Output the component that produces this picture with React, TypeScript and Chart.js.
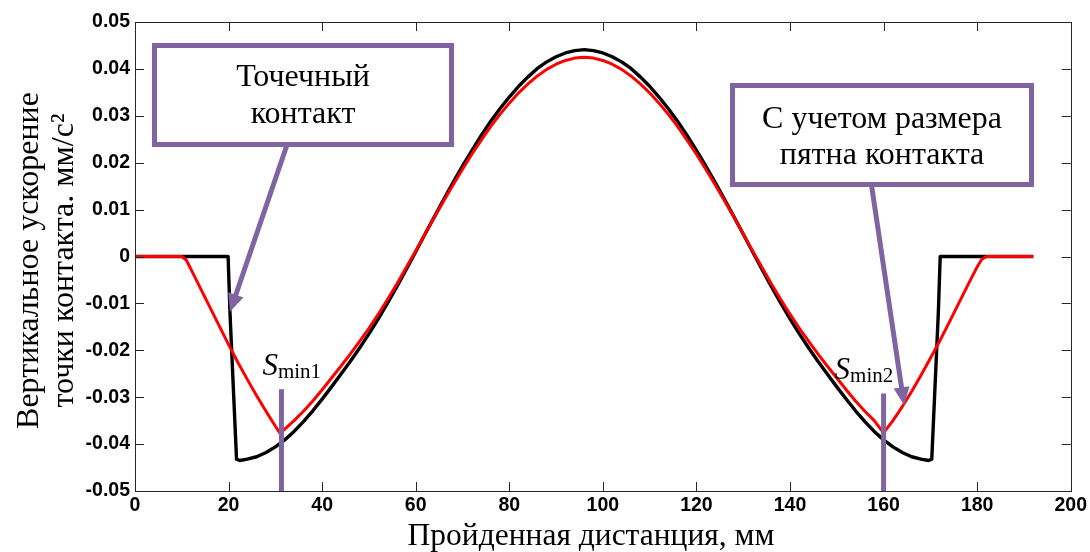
import React, { useEffect, useRef } from "react";
import { Chart, registerables } from "chart.js";

Chart.register(...registerables);

// ---- data ----
const xTickValues = [0, 20, 40, 60, 80, 100, 120, 140, 160, 180, 200];
const xTickLabels = ["0", "20", "40", "60", "80", "100", "120", "140", "160", "180", "200"];
const yTickValues = [-0.05, -0.04, -0.03, -0.02, -0.01, 0, 0.01, 0.02, 0.03, 0.04, 0.05];
const yTickLabels = ["-0.05", "-0.04", "-0.03", "-0.02", "-0.01", "0", "0.01", "0.02", "0.03", "0.04", "0.05"];

// point contact (black)
const blackX = [
  0, 19.9, 20.3, 21.7, 22.4, 24, 26, 28, 30, 32, 34, 36, 38, 40, 42, 44, 46, 48, 50, 52, 54, 56, 58, 60,
  62, 64, 66, 68, 70, 72, 74, 76, 78, 80, 82, 84, 86, 88, 90, 92, 94, 96, 98, 100, 102, 104, 106, 108,
  110, 112, 114, 116, 118, 120, 122, 124, 126, 128, 130, 132, 134, 136, 138, 140, 142, 144, 146, 148,
  150, 152, 154, 156, 158, 160, 162, 164, 166, 168, 169.6, 170.3, 171.7, 172.1, 192,
];
const blackY = [
  0, 0, -0.012, -0.0432, -0.0435, -0.0432, -0.0427, -0.0418, -0.0406, -0.0391, -0.0373, -0.0352, -0.0329,
  -0.0304, -0.0278, -0.0251, -0.0224, -0.0195, -0.0165, -0.0133, -0.0099, -0.0064, -0.0027, 0.001,
  0.0048, 0.0085, 0.0122, 0.0158, 0.0193, 0.0226, 0.0258, 0.0288, 0.0315, 0.034, 0.0363, 0.0383, 0.0401,
  0.0415, 0.0426, 0.0434, 0.0439, 0.0441, 0.0439, 0.0434, 0.0426, 0.0415, 0.0401, 0.0383, 0.0363, 0.034,
  0.0315, 0.0288, 0.0258, 0.0226, 0.0193, 0.0158, 0.0122, 0.0085, 0.0048, 0.001, -0.0027, -0.0064,
  -0.0099, -0.0133, -0.0165, -0.0195, -0.0224, -0.0251, -0.0278, -0.0304, -0.0329, -0.0352, -0.0373,
  -0.0391, -0.0406, -0.0418, -0.0427, -0.0432, -0.0435, -0.0432, -0.012, 0, 0,
];

// contact patch size taken into account (red)
const redX = [
  0, 10, 11, 12, 14, 16, 18, 20, 22, 24, 26, 28, 30, 31, 32, 34, 36, 38, 40, 42, 44, 46, 48, 50, 52, 54,
  56, 58, 60, 62, 64, 66, 68, 70, 72, 74, 76, 78, 80, 82, 84, 86, 88, 90, 92, 94, 96, 98, 100, 102, 104,
  106, 108, 110, 112, 114, 116, 118, 120, 122, 124, 126, 128, 130, 132, 134, 136, 138, 140, 142, 144,
  146, 148, 150, 152, 154, 156, 158, 160, 162, 164, 166, 168, 170, 172, 174, 176, 178, 180, 181, 182, 192,
];
const redY = [
  0, 0, -0.0008, -0.0028, -0.0068, -0.0108, -0.0148, -0.0188, -0.0226, -0.0262, -0.0297, -0.033, -0.0362,
  -0.0377, -0.0368, -0.035, -0.033, -0.0308, -0.0284, -0.0259, -0.0234, -0.0208, -0.0181, -0.0153,
  -0.0123, -0.0091, -0.0058, -0.0023, 0.0012, 0.0048, 0.0084, 0.0119, 0.0153, 0.0186, 0.0218, 0.0248,
  0.0277, 0.0303, 0.0327, 0.0349, 0.0368, 0.0385, 0.0399, 0.041, 0.0418, 0.0423, 0.0425, 0.0423, 0.0418,
  0.041, 0.0399, 0.0385, 0.0368, 0.0349, 0.0327, 0.0303, 0.0277, 0.0248, 0.0218, 0.0186, 0.0153, 0.0119,
  0.0084, 0.0048, 0.0012, -0.0023, -0.0058, -0.0091, -0.0123, -0.0153, -0.0181, -0.0208, -0.0234,
  -0.0259, -0.0284, -0.0308, -0.033, -0.035, -0.0376, -0.035, -0.032, -0.0288, -0.0253, -0.0217, -0.018,
  -0.0141, -0.0101, -0.0061, -0.0022, -0.0006, 0, 0,
];

// S_min markers
const sminX = [31.3, 160];
const sminTop = [-0.0283, -0.0292];
const sminSub = ["min1", "min2"];

// annotation texts
const xTitle = "Пройденная дистанция, мм";
const yTitleLines = ["Вертикальное ускорение", "точки контакта. мм/с²"];
const box1Lines = ["Точечный", "контакт"];
const box2Lines = ["С учетом размера", "пятна контакта"];
const arrow1Tip = { x: 20.3, y: -0.0118 };
const arrow2Tip = { x: 164.4, y: -0.0317 };

const PURPLE = "#8064A2";
const SERIF = "'Liberation Serif', 'Times New Roman', serif";
const SANS = "'Liberation Sans', Arial, sans-serif";

function drawArrow(ctx: CanvasRenderingContext2D, x1: number, y1: number, x2: number, y2: number) {
  const ang = Math.atan2(y2 - y1, x2 - x1);
  const headLen = 18;
  const headHalf = 8;
  const bx = x2 - Math.cos(ang) * headLen;
  const by = y2 - Math.sin(ang) * headLen;
  ctx.save();
  ctx.strokeStyle = PURPLE;
  ctx.fillStyle = PURPLE;
  ctx.lineWidth = 5;
  ctx.beginPath();
  ctx.moveTo(x1, y1);
  ctx.lineTo(bx + Math.cos(ang) * 2, by + Math.sin(ang) * 2);
  ctx.stroke();
  ctx.beginPath();
  ctx.moveTo(x2, y2);
  ctx.lineTo(bx + Math.cos(ang + Math.PI / 2) * headHalf, by + Math.sin(ang + Math.PI / 2) * headHalf);
  ctx.lineTo(bx + Math.cos(ang - Math.PI / 2) * headHalf, by + Math.sin(ang - Math.PI / 2) * headHalf);
  ctx.closePath();
  ctx.fill();
  ctx.restore();
}

function drawBox(ctx: CanvasRenderingContext2D, x0: number, y0: number, x1: number, y1: number, lines: string[], cx: number, ys: number[]) {
  ctx.save();
  ctx.fillStyle = "#ffffff";
  ctx.fillRect(x0, y0, x1 - x0, y1 - y0);
  ctx.strokeStyle = PURPLE;
  ctx.lineWidth = 5;
  ctx.strokeRect(x0 + 2.5, y0 + 2.5, x1 - x0 - 5, y1 - y0 - 5);
  ctx.fillStyle = "#000000";
  ctx.font = `32px ${SERIF}`;
  ctx.textAlign = "center";
  ctx.textBaseline = "middle";
  lines.forEach((t, i) => ctx.fillText(t, cx, ys[i]));
  ctx.restore();
}

const overlayPlugin = {
  id: "overlay",
  afterDraw(chart: any) {
    const ctx: CanvasRenderingContext2D = chart.ctx;
    const xs = chart.scales.x;
    const ys = chart.scales.y;
    const { left, right, top, bottom } = chart.chartArea;

    ctx.save();
    // inside tick marks
    ctx.strokeStyle = "#262626";
    ctx.lineWidth = 1;
    const tl = 9;
    ctx.beginPath();
    xTickValues.forEach((v) => {
      const px = Math.round(xs.getPixelForValue(v)) + 0.5;
      ctx.moveTo(px, bottom);
      ctx.lineTo(px, bottom - tl);
      ctx.moveTo(px, top);
      ctx.lineTo(px, top + tl);
    });
    yTickValues.forEach((v) => {
      const py = Math.round(ys.getPixelForValue(v)) + 0.5;
      ctx.moveTo(left, py);
      ctx.lineTo(left + tl, py);
      ctx.moveTo(right, py);
      ctx.lineTo(right - tl, py);
    });
    ctx.stroke();
    // box
    ctx.strokeRect(Math.round(left) + 0.5, Math.round(top) + 0.5, Math.round(right - left), Math.round(bottom - top));

    // axis titles
    ctx.fillStyle = "#000";
    ctx.font = `31.5px ${SERIF}`;
    ctx.textAlign = "center";
    ctx.textBaseline = "middle";
    ctx.fillText(xTitle, 591, 537);
    ctx.font = `32px ${SERIF}`;
    const yMid = (top + bottom) / 2 + 4;
    [30, 65].forEach((xx, i) => {
      ctx.save();
      ctx.translate(xx, yMid);
      ctx.rotate(-Math.PI / 2);
      ctx.fillText(yTitleLines[i], 0, 0);
      ctx.restore();
    });

    // S_min markers
    sminX.forEach((v, i) => {
      const px = xs.getPixelForValue(v);
      const pt = ys.getPixelForValue(sminTop[i]);
      ctx.strokeStyle = PURPLE;
      ctx.lineWidth = 5;
      ctx.beginPath();
      ctx.moveTo(px, pt);
      ctx.lineTo(px, bottom);
      ctx.stroke();
      const sx = i === 0 ? px - 19 : px - 49;
      const sb = pt - 14;
      ctx.fillStyle = "#000";
      ctx.textAlign = "left";
      ctx.textBaseline = "alphabetic";
      ctx.font = `italic 31px ${SERIF}`;
      ctx.fillText("S", sx, sb);
      const w = ctx.measureText("S").width;
      ctx.font = `21px ${SERIF}`;
      ctx.fillText(sminSub[i], sx + w, sb + 3);
    });
    ctx.restore();

    // callout boxes and arrows
    drawArrow(ctx, 288, 142, xs.getPixelForValue(arrow1Tip.x), ys.getPixelForValue(arrow1Tip.y));
    drawArrow(ctx, 871.5, 185, xs.getPixelForValue(arrow2Tip.x), ys.getPixelForValue(arrow2Tip.y));
    drawBox(ctx, 152, 43, 454, 147, box1Lines, 303, [78, 115]);
    drawBox(ctx, 730, 83, 1034, 187, box2Lines, 882, [120, 156]);
  },
};

export default function App() {
  const canvasRef = useRef<HTMLCanvasElement | null>(null);

  useEffect(() => {
    const canvas = canvasRef.current;
    if (!canvas) return;
    const redData = redX.map((x, i) => ({ x, y: redY[i] }));
    const blackData = blackX.map((x, i) => ({ x, y: blackY[i] }));
    const chart = new Chart(canvas, {
      type: "line",
      data: {
        datasets: [
          {
            label: "С учетом размера пятна контакта",
            data: redData,
            borderColor: "#ff0000",
            borderWidth: 3,
            pointRadius: 0,
            tension: 0,
            borderJoinStyle: "round",
            order: 0,
          },
          {
            label: "Точечный контакт",
            data: blackData,
            borderColor: "#000000",
            borderWidth: 3.4,
            pointRadius: 0,
            tension: 0,
            borderJoinStyle: "round",
            order: 1,
          },
        ],
      },
      options: {
        animation: false,
        responsive: false,
        devicePixelRatio: 1,
        layout: { padding: { left: 0, top: 22, right: 18, bottom: 0 } },
        plugins: { legend: { display: false }, tooltip: { enabled: false } },
        events: [],
        scales: {
          x: {
            type: "linear",
            min: 0,
            max: 200,
            grid: { display: false, drawTicks: false },
            border: { display: false },
            afterBuildTicks: (s: any) => {
              s.ticks = xTickValues.map((v) => ({ value: v }));
            },
            afterFit: (s: any) => {
              s.height = 61;
            },
            ticks: {
              autoSkip: false,
              maxRotation: 0,
              padding: 3,
              color: "#000",
              font: { family: SANS, size: 19.5, weight: "bold" },
              callback: (_v: any, i: number) => xTickLabels[i],
            },
          },
          y: {
            type: "linear",
            min: -0.05,
            max: 0.05,
            grid: { display: false, drawTicks: false },
            border: { display: false },
            afterBuildTicks: (s: any) => {
              s.ticks = yTickValues.map((v) => ({ value: v }));
            },
            afterFit: (s: any) => {
              s.width = 135;
            },
            ticks: {
              autoSkip: false,
              padding: 5,
              color: "#000",
              font: { family: SANS, size: 19.5, weight: "bold" },
              callback: (_v: any, i: number) => yTickLabels[i],
            },
          },
        },
      },
      plugins: [overlayPlugin],
    });
    return () => chart.destroy();
  }, []);

  return (
    <div style={{ position: "fixed", left: 0, top: 0, width: 1090, height: 552, background: "#fff" }}>
      <canvas ref={canvasRef} width={1090} height={552} style={{ display: "block" }} />
    </div>
  );
}
